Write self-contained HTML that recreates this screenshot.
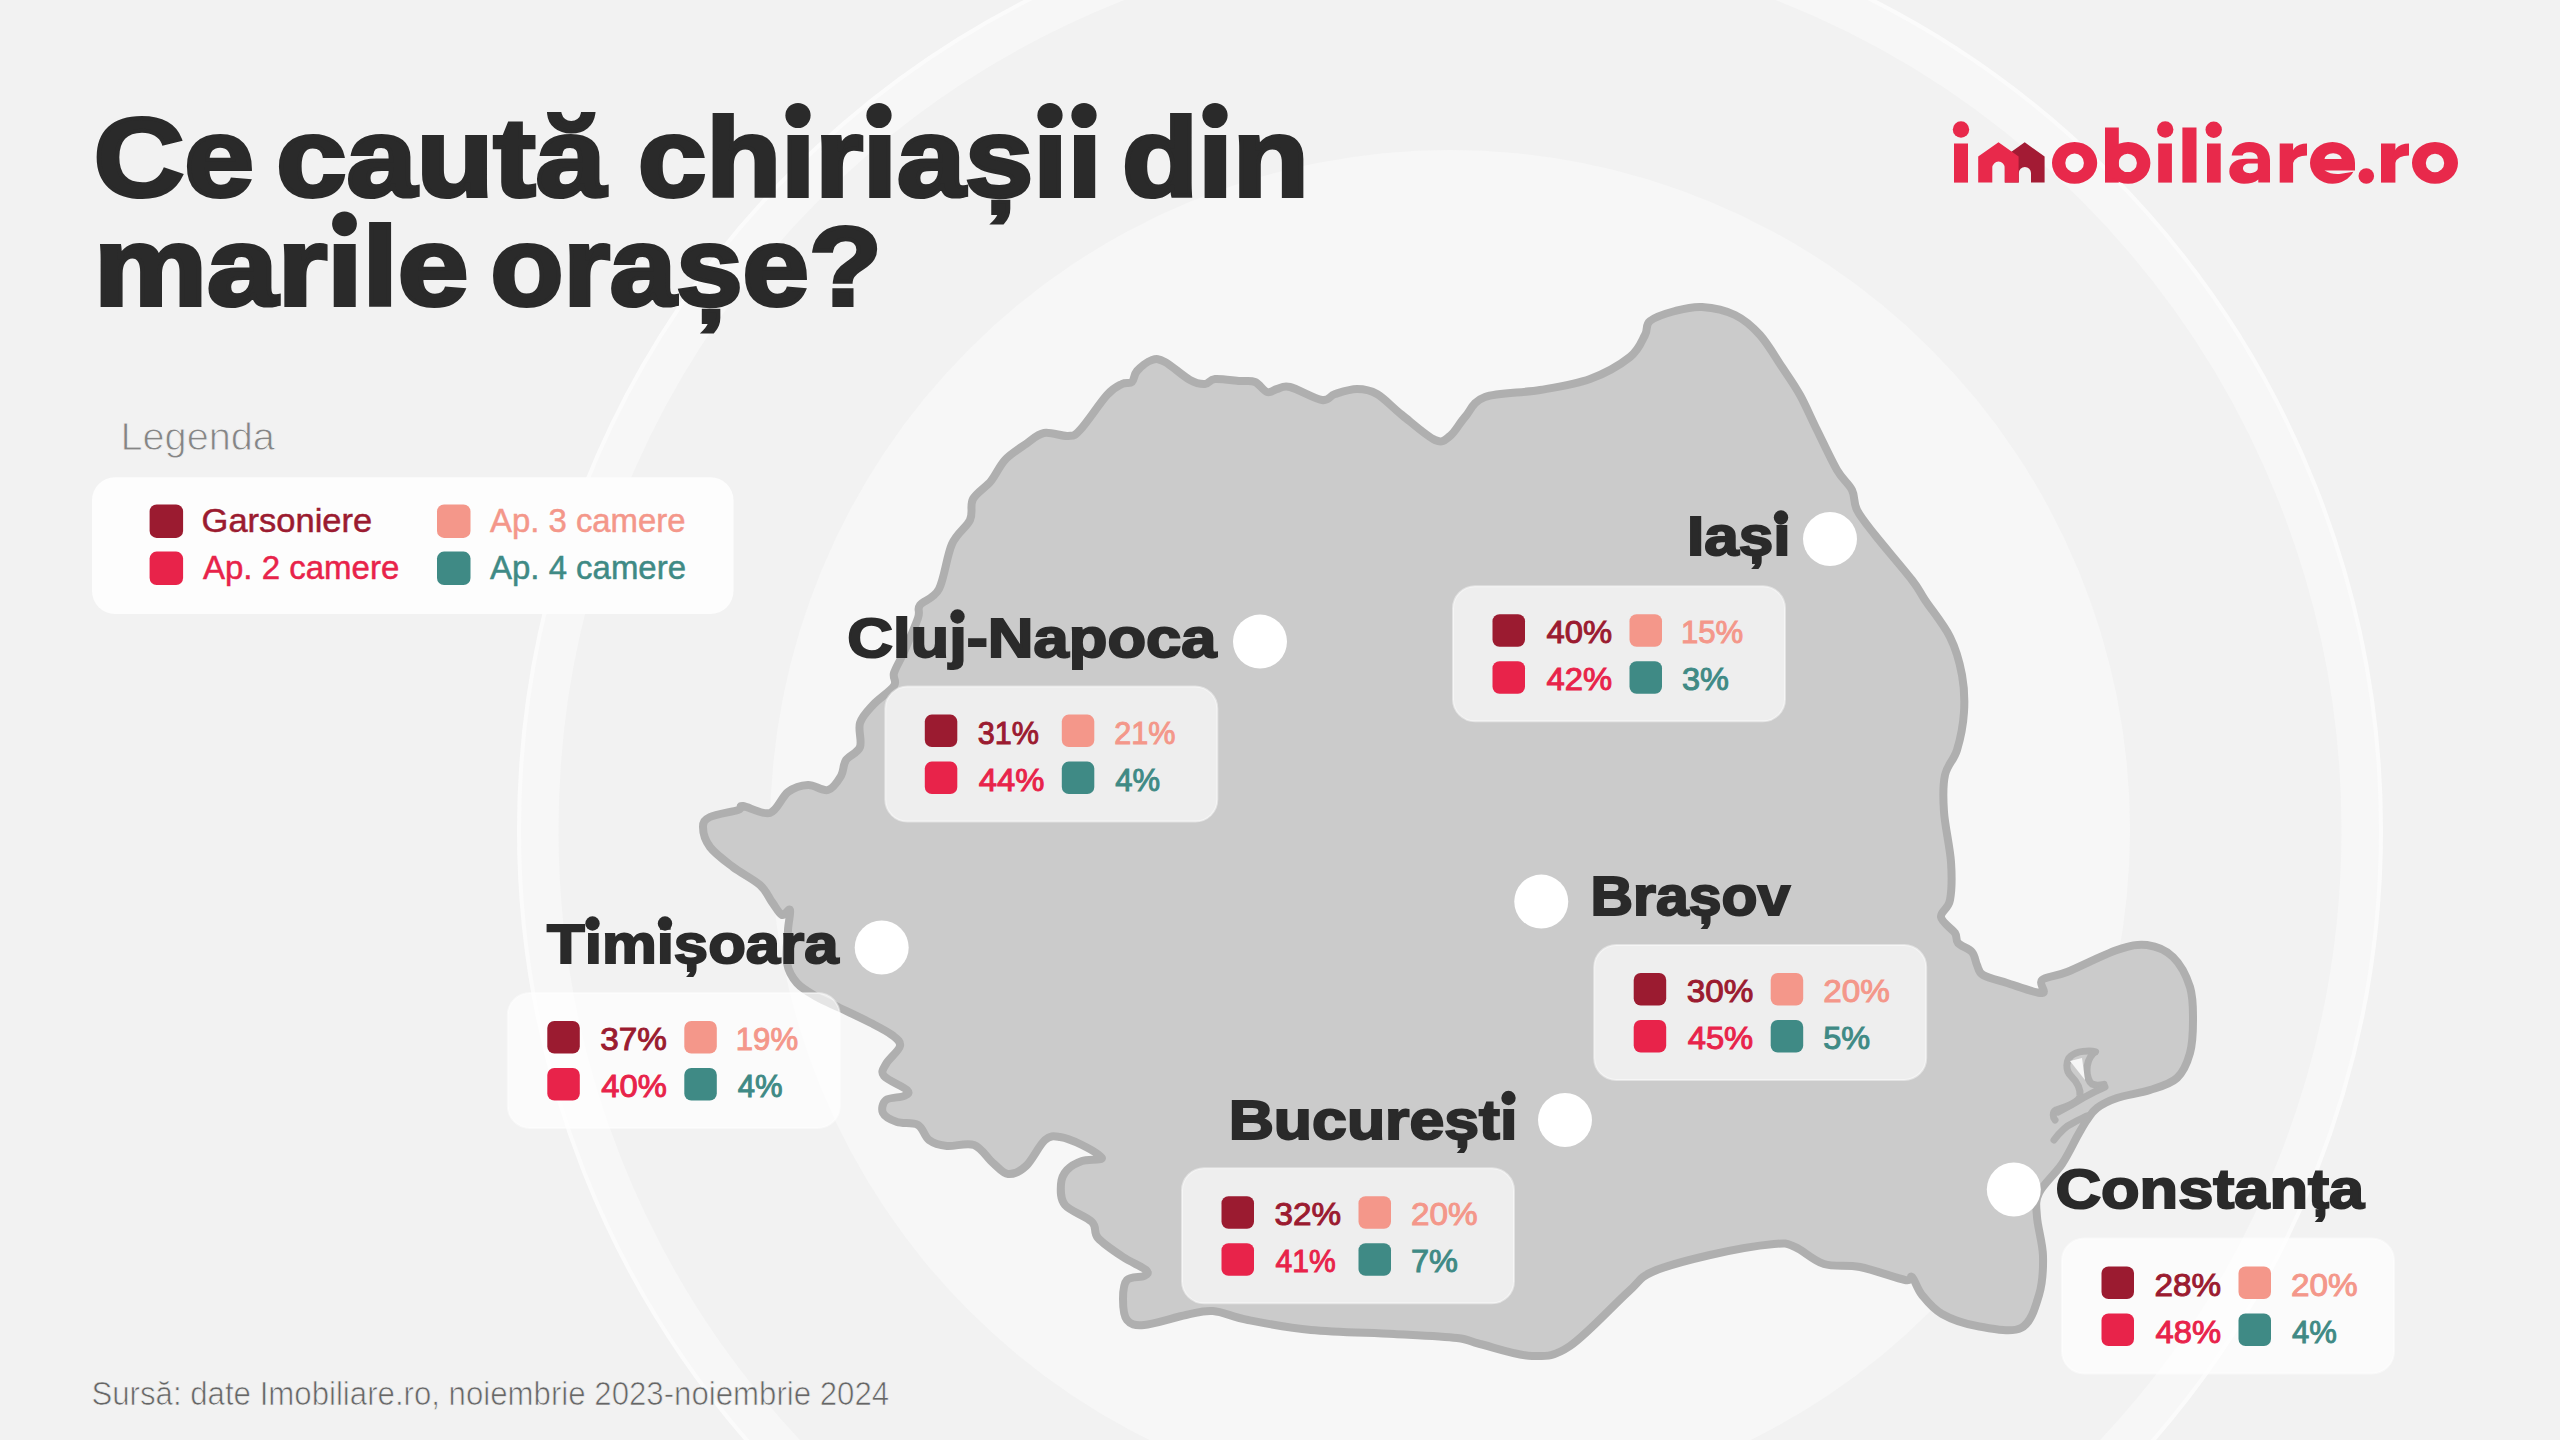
<!DOCTYPE html>
<html><head><meta charset="utf-8"><title>Ce caută chiriașii din marile orașe?</title>
<style>html,body{margin:0;padding:0;width:2560px;height:1440px;overflow:hidden;background:#f2f2f2}svg{display:block}</style>
</head><body>
<svg width="2560" height="1440" viewBox="0 0 2560 1440">
<style>
text{font-family:"Liberation Sans",sans-serif}
.title{font-size:112px;font-weight:700;fill:#2a2a2a;stroke:#2a2a2a;stroke-width:4;stroke-linejoin:miter}
.lab{font-size:56px;font-weight:700;fill:#2a2a2a;stroke:#2a2a2a;stroke-width:2}
.pct{font-size:32px;font-weight:400;stroke-width:1.0}
.leg{font-size:32.5px;font-weight:400;stroke-width:0.5}
</style>
<rect width="2560" height="1440" fill="#f2f2f2"/>
<circle cx="1450" cy="830" r="912" fill="none" stroke="#f7f7f7" stroke-width="41"/>
<circle cx="1450" cy="830" r="931" fill="none" stroke="#fbfbfb" stroke-width="4"/>
<circle cx="1450" cy="830" r="680" fill="#f7f7f7"/>
<path d="M703.0 827.0 C703.0 822.0 704.2 819.8 710.0 817.0 C715.8 814.2 732.5 811.8 738.0 810.0 C743.5 808.2 737.7 805.5 743.0 806.0 C748.3 806.5 762.5 815.3 770.0 813.0 C777.5 810.7 781.7 796.7 788.0 792.0 C794.3 787.3 801.3 785.3 808.0 785.0 C814.7 784.7 822.5 791.5 828.0 790.0 C833.5 788.5 838.0 781.0 841.0 776.0 C844.0 771.0 842.8 764.8 846.0 760.0 C849.2 755.2 857.7 753.2 860.0 747.0 C862.3 740.8 857.8 730.0 860.0 723.0 C862.2 716.0 867.3 711.2 873.0 705.0 C878.7 698.8 890.5 691.3 894.0 686.0 C897.5 680.7 892.3 678.7 894.0 673.0 C895.7 667.3 900.0 661.2 904.0 652.0 C908.0 642.8 915.3 625.8 918.0 618.0 C920.7 610.2 916.5 609.8 920.0 605.0 C923.5 600.2 933.7 599.2 939.0 589.0 C944.3 578.8 946.8 555.5 952.0 544.0 C957.2 532.5 966.5 527.5 970.0 520.0 C973.5 512.5 969.5 505.5 973.0 499.0 C976.5 492.5 985.7 487.5 991.0 481.0 C996.3 474.5 999.2 466.2 1005.0 460.0 C1010.8 453.8 1019.5 448.5 1026.0 444.0 C1032.5 439.5 1037.0 434.3 1044.0 433.0 C1051.0 431.7 1062.0 436.5 1068.0 436.0 C1074.0 435.5 1073.5 436.8 1080.0 430.0 C1086.5 423.2 1100.0 402.7 1107.0 395.0 C1114.0 387.3 1117.8 386.2 1122.0 384.0 C1126.2 381.8 1129.5 384.2 1132.0 382.0 C1134.5 379.8 1133.7 374.7 1137.0 371.0 C1140.3 367.3 1147.3 361.5 1152.0 360.0 C1156.7 358.5 1158.7 358.7 1165.0 362.0 C1171.3 365.3 1183.3 376.3 1190.0 380.0 C1196.7 383.7 1200.8 384.2 1205.0 384.0 C1209.2 383.8 1209.2 379.5 1215.0 379.0 C1220.8 378.5 1233.3 380.5 1240.0 381.0 C1246.7 381.5 1250.5 380.2 1255.0 382.0 C1259.5 383.8 1263.3 390.8 1267.0 392.0 C1270.7 393.2 1273.2 389.8 1277.0 389.0 C1280.8 388.2 1282.5 385.2 1290.0 387.0 C1297.5 388.8 1314.5 398.8 1322.0 400.0 C1329.5 401.2 1329.2 395.8 1335.0 394.0 C1340.8 392.2 1350.0 389.0 1357.0 389.0 C1364.0 389.0 1369.5 389.7 1377.0 394.0 C1384.5 398.3 1392.3 407.3 1402.0 415.0 C1411.7 422.7 1427.0 436.5 1435.0 440.0 C1443.0 443.5 1445.0 439.8 1450.0 436.0 C1455.0 432.2 1459.2 423.5 1465.0 417.0 C1470.8 410.5 1472.5 401.5 1485.0 397.0 C1497.5 392.5 1522.5 393.0 1540.0 390.0 C1557.5 387.0 1575.0 384.5 1590.0 379.0 C1605.0 373.5 1620.8 364.3 1630.0 357.0 C1639.2 349.7 1641.7 341.0 1645.0 335.0 C1648.3 329.0 1645.0 325.0 1650.0 321.0 C1655.0 317.0 1666.3 313.3 1675.0 311.0 C1683.7 308.7 1692.0 306.3 1702.0 307.0 C1712.0 307.7 1725.3 310.3 1735.0 315.0 C1744.7 319.7 1752.2 326.3 1760.0 335.0 C1767.8 343.7 1775.3 357.0 1782.0 367.0 C1788.7 377.0 1794.2 384.5 1800.0 395.0 C1805.8 405.5 1810.8 417.5 1817.0 430.0 C1823.2 442.5 1831.2 460.0 1837.0 470.0 C1842.8 480.0 1848.7 483.3 1852.0 490.0 C1855.3 496.7 1853.2 502.5 1857.0 510.0 C1860.8 517.5 1865.8 523.3 1875.0 535.0 C1884.2 546.7 1903.7 569.2 1912.0 580.0 C1920.3 590.8 1918.7 590.5 1925.0 600.0 C1931.3 609.5 1943.8 624.5 1950.0 637.0 C1956.2 649.5 1959.7 662.5 1962.0 675.0 C1964.3 687.5 1964.8 699.5 1964.0 712.0 C1963.2 724.5 1960.2 739.5 1957.0 750.0 C1953.8 760.5 1947.2 764.7 1945.0 775.0 C1942.8 785.3 1943.0 797.5 1944.0 812.0 C1945.0 826.5 1950.0 847.3 1951.0 862.0 C1952.0 876.7 1951.7 890.8 1950.0 900.0 C1948.3 909.2 1940.2 911.5 1941.0 917.0 C1941.8 922.5 1952.2 928.7 1955.0 933.0 C1957.8 937.3 1955.2 939.8 1958.0 943.0 C1960.8 946.2 1968.8 948.3 1972.0 952.0 C1975.2 955.7 1975.2 961.2 1977.0 965.0 C1978.8 968.8 1978.0 972.0 1983.0 975.0 C1988.0 978.0 1997.2 980.0 2007.0 983.0 C2016.8 986.0 2036.2 993.5 2042.0 993.0 C2047.8 992.5 2037.8 983.5 2042.0 980.0 C2046.2 976.5 2054.5 977.0 2067.0 972.0 C2079.5 967.0 2103.7 954.5 2117.0 950.0 C2130.3 945.5 2137.7 943.8 2147.0 945.0 C2156.3 946.2 2165.8 950.0 2173.0 957.0 C2180.2 964.0 2186.7 976.5 2190.0 987.0 C2193.3 997.5 2193.0 1009.0 2193.0 1020.0 C2193.0 1031.0 2192.7 1043.3 2190.0 1053.0 C2187.3 1062.7 2183.7 1071.8 2177.0 1078.0 C2170.3 1084.2 2160.0 1086.7 2150.0 1090.0 C2140.0 1093.3 2125.8 1095.0 2117.0 1098.0 C2108.2 1101.0 2102.0 1104.3 2097.0 1108.0 C2092.0 1111.7 2090.2 1115.5 2087.0 1120.0 C2083.8 1124.5 2082.2 1127.7 2078.0 1135.0 C2073.8 1142.3 2068.5 1154.3 2062.0 1164.0 C2055.5 1173.7 2043.2 1184.2 2039.0 1193.0 C2034.8 1201.8 2036.3 1206.5 2037.0 1217.0 C2037.7 1227.5 2042.7 1243.0 2043.0 1256.0 C2043.3 1269.0 2042.7 1283.0 2039.0 1295.0 C2035.3 1307.0 2031.3 1322.8 2021.0 1328.0 C2010.7 1333.2 1990.2 1328.3 1977.0 1326.0 C1963.8 1323.7 1951.2 1319.2 1942.0 1314.0 C1932.8 1308.8 1927.0 1301.2 1922.0 1295.0 C1917.0 1288.8 1914.8 1279.5 1912.0 1277.0 C1909.2 1274.5 1913.7 1281.7 1905.0 1280.0 C1896.3 1278.3 1873.5 1269.7 1860.0 1267.0 C1846.5 1264.3 1834.8 1267.3 1824.0 1264.0 C1813.2 1260.7 1803.3 1250.3 1795.0 1247.0 C1786.7 1243.7 1788.2 1242.7 1774.0 1244.0 C1759.8 1245.3 1730.3 1250.3 1710.0 1255.0 C1689.7 1259.7 1665.7 1265.8 1652.0 1272.0 C1638.3 1278.2 1641.7 1279.7 1628.0 1292.0 C1614.3 1304.3 1586.0 1335.3 1570.0 1346.0 C1554.0 1356.7 1547.0 1356.3 1532.0 1356.0 C1517.0 1355.7 1492.5 1347.0 1480.0 1344.0 C1467.5 1341.0 1471.3 1339.7 1457.0 1338.0 C1442.7 1336.3 1418.3 1335.3 1394.0 1334.0 C1369.7 1332.7 1335.3 1332.3 1311.0 1330.0 C1286.7 1327.7 1264.3 1323.2 1248.0 1320.0 C1231.7 1316.8 1223.3 1311.8 1213.0 1311.0 C1202.7 1310.2 1197.5 1312.7 1186.0 1315.0 C1174.5 1317.3 1153.8 1324.2 1144.0 1325.0 C1134.2 1325.8 1130.5 1324.3 1127.0 1320.0 C1123.5 1315.7 1123.0 1305.7 1123.0 1299.0 C1123.0 1292.3 1123.5 1283.8 1127.0 1280.0 C1130.5 1276.2 1140.8 1277.7 1144.0 1276.0 C1147.2 1274.3 1149.5 1273.2 1146.0 1270.0 C1142.5 1266.8 1131.0 1262.3 1123.0 1257.0 C1115.0 1251.7 1103.2 1243.8 1098.0 1238.0 C1092.8 1232.2 1097.5 1227.5 1092.0 1222.0 C1086.5 1216.5 1070.2 1211.3 1065.0 1205.0 C1059.8 1198.7 1060.7 1189.8 1061.0 1184.0 C1061.3 1178.2 1063.5 1173.8 1067.0 1170.0 C1070.5 1166.2 1076.2 1163.0 1082.0 1161.0 C1087.8 1159.0 1102.0 1160.7 1102.0 1158.0 C1102.0 1155.3 1089.0 1148.5 1082.0 1145.0 C1075.0 1141.5 1066.2 1137.8 1060.0 1137.0 C1053.8 1136.2 1050.7 1135.2 1045.0 1140.0 C1039.3 1144.8 1032.2 1160.3 1026.0 1166.0 C1019.8 1171.7 1013.5 1174.5 1008.0 1174.0 C1002.5 1173.5 998.7 1167.8 993.0 1163.0 C987.3 1158.2 981.7 1147.8 974.0 1145.0 C966.3 1142.2 954.5 1146.8 947.0 1146.0 C939.5 1145.2 933.8 1143.5 929.0 1140.0 C924.2 1136.5 923.3 1128.0 918.0 1125.0 C912.7 1122.0 902.8 1124.0 897.0 1122.0 C891.2 1120.0 884.8 1116.7 883.0 1113.0 C881.2 1109.3 882.5 1102.8 886.0 1100.0 C889.5 1097.2 900.5 1097.7 904.0 1096.0 C907.5 1094.3 910.3 1093.3 907.0 1090.0 C903.7 1086.7 887.5 1080.3 884.0 1076.0 C880.5 1071.7 883.3 1069.0 886.0 1064.0 C888.7 1059.0 899.0 1050.8 900.0 1046.0 C901.0 1041.2 896.8 1038.8 892.0 1035.0 C887.2 1031.2 879.7 1027.5 871.0 1023.0 C862.3 1018.5 849.0 1012.3 840.0 1008.0 C831.0 1003.7 824.2 1001.2 817.0 997.0 C809.8 992.8 802.0 988.7 797.0 983.0 C792.0 977.3 788.5 971.8 787.0 963.0 C785.5 954.2 787.5 938.8 788.0 930.0 C788.5 921.2 791.0 912.5 790.0 910.0 C789.0 907.5 785.0 916.3 782.0 915.0 C779.0 913.7 775.7 907.0 772.0 902.0 C768.3 897.0 766.5 890.8 760.0 885.0 C753.5 879.2 741.3 873.3 733.0 867.0 C724.7 860.7 715.0 853.7 710.0 847.0 C705.0 840.3 703.0 832.0 703.0 827.0Z" fill="#cbcbcb" stroke="#afafaf" stroke-width="8" stroke-linejoin="round"/>
<path d="M2095.6 1051.8 C2090 1050 2076 1051 2071 1056 C2066 1060 2065 1070 2071 1076 C2076 1081 2081 1088 2080 1096 C2079 1102 2068 1106 2056 1110 C2052 1112 2053 1118 2055 1120" fill="none" stroke="#afafaf" stroke-width="7" stroke-linecap="round"/>
<path d="M2092.8 1053.9 C2089 1058 2087 1064 2087 1070 C2087 1076 2089 1082 2092 1084 C2096 1086 2101 1085 2104 1084.4" fill="none" stroke="#afafaf" stroke-width="7" stroke-linecap="round"/>
<path d="M2070 1061 L2082 1058 L2085 1080 Z" fill="#f6f6f6"/>
<path d="M2105 1087 C2098 1090 2090 1094 2083 1098 C2075 1103 2066 1108 2058 1112" fill="none" stroke="#afafaf" stroke-width="7" stroke-linecap="round"/>
<path d="M2054 1140 C2060 1132 2066 1126 2073 1123 C2078 1120 2083 1118 2087 1116" fill="none" stroke="#afafaf" stroke-width="7" stroke-linecap="round"/>
<circle cx="1260" cy="641.6" r="27" fill="#ffffff"/>
<circle cx="1830" cy="539" r="27" fill="#ffffff"/>
<circle cx="1541.25" cy="901.6" r="27" fill="#ffffff"/>
<circle cx="881.7" cy="947.5" r="27" fill="#ffffff"/>
<circle cx="1565" cy="1120" r="27" fill="#ffffff"/>
<circle cx="2013.8" cy="1189.5" r="27" fill="#ffffff"/>
<text x="93.75" y="196.25" class="title" style="" textLength="160.2" lengthAdjust="spacingAndGlyphs">Ce</text>
<text x="276.25" y="196.25" class="title" style="" textLength="329.52" lengthAdjust="spacingAndGlyphs">caută</text>
<text x="638.0" y="196.25" class="title" style="" textLength="463.45" lengthAdjust="spacingAndGlyphs">chırıașıı</text>
<text x="1122.0" y="196.25" class="title" style="" textLength="186.86" lengthAdjust="spacingAndGlyphs">dın</text>
<text x="94.0" y="305" class="title" style="" textLength="374.37" lengthAdjust="spacingAndGlyphs">marıle</text>
<text x="490.5" y="305" class="title" style="" textLength="391.31" lengthAdjust="spacingAndGlyphs">orașe?</text>
<circle cx="798" cy="115.5" r="12.6" fill="#2a2a2a"/>
<circle cx="879" cy="115.5" r="12.6" fill="#2a2a2a"/>
<circle cx="1050" cy="115.5" r="12.6" fill="#2a2a2a"/>
<circle cx="1084" cy="115.5" r="12.6" fill="#2a2a2a"/>
<circle cx="1215" cy="115.5" r="12.6" fill="#2a2a2a"/>
<circle cx="344.5" cy="223.8" r="12.4" fill="#2a2a2a"/>
<circle cx="957.5" cy="616.5" r="7.2" fill="#2a2a2a"/>
<circle cx="1781" cy="517.5" r="7.2" fill="#2a2a2a"/>
<circle cx="592.5" cy="923.5" r="7.2" fill="#2a2a2a"/>
<circle cx="665" cy="923.5" r="7.2" fill="#2a2a2a"/>
<circle cx="1508.5" cy="1098" r="7.2" fill="#2a2a2a"/>
<text x="847.25" y="656.6" class="lab" style="" textLength="369.27" lengthAdjust="spacingAndGlyphs">Cluȷ-Napoca</text>
<text x="1687.0" y="555.3" class="lab" style="" textLength="103.54" lengthAdjust="spacingAndGlyphs">Iașı</text>
<text x="1590.4" y="915.3" class="lab" style="" textLength="199.81" lengthAdjust="spacingAndGlyphs">Brașov</text>
<text x="547.1" y="963.3" class="lab" style="" textLength="291.36" lengthAdjust="spacingAndGlyphs">Tımișoara</text>
<text x="1228.7" y="1138.6" class="lab" style="" textLength="288.6" lengthAdjust="spacingAndGlyphs">Bucureștı</text>
<text x="2055.4" y="1208.4" class="lab" style="" textLength="308.72" lengthAdjust="spacingAndGlyphs">Constanța</text>
<text x="120.4" y="450.3" class="" style="font-size:38px;fill:#858585;stroke:#f2f2f2;stroke-width:0.9" textLength="154.56" lengthAdjust="spacingAndGlyphs">Legenda</text>
<rect x="92" y="477.3" width="641.5" height="136.7" rx="23" fill="#fdfdfd"/>
<rect x="149.6" y="504.4" width="33.5" height="33.5" rx="7" fill="#9b1b30"/>
<text x="201.6" y="532.0" class="leg" style="" textLength="170.53" lengthAdjust="spacingAndGlyphs" fill="#9b1b30" stroke="#9b1b30">Garsoniere</text>
<rect x="149.6" y="551.6" width="33.5" height="33.5" rx="7" fill="#e8234a"/>
<text x="203.0" y="579.2" class="leg" style="" textLength="196.24" lengthAdjust="spacingAndGlyphs" fill="#e8234a" stroke="#e8234a">Ap. 2 camere</text>
<rect x="437" y="504.4" width="33.5" height="33.5" rx="7" fill="#f4978a"/>
<text x="490.0" y="532.0" class="leg" style="" textLength="195.52" lengthAdjust="spacingAndGlyphs" fill="#f4978a" stroke="#f4978a">Ap. 3 camere</text>
<rect x="437" y="551.6" width="33.5" height="33.5" rx="7" fill="#3f8a85"/>
<text x="490.0" y="579.2" class="leg" style="" textLength="196.02" lengthAdjust="spacingAndGlyphs" fill="#3f8a85" stroke="#3f8a85">Ap. 4 camere</text>
<rect x="885.3" y="686.6" width="332" height="135" rx="22" fill="rgba(255,255,255,0.68)" stroke="rgba(255,255,255,0.45)" stroke-width="2"/><rect x="924.8" y="714.6" width="32.5" height="32.5" rx="7" fill="#9b1b30"/><text x="977.8" y="743.6" class="pct" fill="#9b1b30" stroke="#9b1b30" textLength="61.24" lengthAdjust="spacingAndGlyphs">31%</text><rect x="1061.8" y="714.6" width="32.5" height="32.5" rx="7" fill="#f4978a"/><text x="1114.3" y="743.6" class="pct" fill="#f4978a" stroke="#f4978a" textLength="61.24" lengthAdjust="spacingAndGlyphs">21%</text><rect x="924.8" y="761.6" width="32.5" height="32.5" rx="7" fill="#e8234a"/><text x="978.8" y="790.6" class="pct" fill="#e8234a" stroke="#e8234a" textLength="65.56" lengthAdjust="spacingAndGlyphs">44%</text><rect x="1061.8" y="761.6" width="32.5" height="32.5" rx="7" fill="#3f8a85"/><text x="1115.3" y="790.6" class="pct" fill="#3f8a85" stroke="#3f8a85" textLength="44.85" lengthAdjust="spacingAndGlyphs">4%</text>
<rect x="1453" y="586.3" width="332" height="135" rx="22" fill="rgba(255,255,255,0.68)" stroke="rgba(255,255,255,0.45)" stroke-width="2"/><rect x="1492.5" y="614.3" width="32.5" height="32.5" rx="7" fill="#9b1b30"/><text x="1546.5" y="643.3" class="pct" fill="#9b1b30" stroke="#9b1b30" textLength="65.56" lengthAdjust="spacingAndGlyphs">40%</text><rect x="1629.5" y="614.3" width="32.5" height="32.5" rx="7" fill="#f4978a"/><text x="1681.0" y="643.3" class="pct" fill="#f4978a" stroke="#f4978a" textLength="62.3" lengthAdjust="spacingAndGlyphs">15%</text><rect x="1492.5" y="661.3" width="32.5" height="32.5" rx="7" fill="#e8234a"/><text x="1546.5" y="690.3" class="pct" fill="#e8234a" stroke="#e8234a" textLength="65.56" lengthAdjust="spacingAndGlyphs">42%</text><rect x="1629.5" y="661.3" width="32.5" height="32.5" rx="7" fill="#3f8a85"/><text x="1682.0" y="690.3" class="pct" fill="#3f8a85" stroke="#3f8a85" textLength="46.91" lengthAdjust="spacingAndGlyphs">3%</text>
<rect x="1594.2" y="945" width="332" height="135" rx="22" fill="rgba(255,255,255,0.68)" stroke="rgba(255,255,255,0.45)" stroke-width="2"/><rect x="1633.7" y="973.0" width="32.5" height="32.5" rx="7" fill="#9b1b30"/><text x="1686.7" y="1002.0" class="pct" fill="#9b1b30" stroke="#9b1b30" textLength="66.59" lengthAdjust="spacingAndGlyphs">30%</text><rect x="1770.7" y="973.0" width="32.5" height="32.5" rx="7" fill="#f4978a"/><text x="1823.2" y="1002.0" class="pct" fill="#f4978a" stroke="#f4978a" textLength="66.59" lengthAdjust="spacingAndGlyphs">20%</text><rect x="1633.7" y="1020.0" width="32.5" height="32.5" rx="7" fill="#e8234a"/><text x="1687.7" y="1049.0" class="pct" fill="#e8234a" stroke="#e8234a" textLength="65.56" lengthAdjust="spacingAndGlyphs">45%</text><rect x="1770.7" y="1020.0" width="32.5" height="32.5" rx="7" fill="#3f8a85"/><text x="1823.2" y="1049.0" class="pct" fill="#3f8a85" stroke="#3f8a85" textLength="46.91" lengthAdjust="spacingAndGlyphs">5%</text>
<rect x="507.8" y="993" width="332" height="135" rx="22" fill="rgba(255,255,255,0.68)" stroke="rgba(255,255,255,0.45)" stroke-width="2"/><rect x="547.3" y="1021.0" width="32.5" height="32.5" rx="7" fill="#9b1b30"/><text x="600.3" y="1050.0" class="pct" fill="#9b1b30" stroke="#9b1b30" textLength="66.59" lengthAdjust="spacingAndGlyphs">37%</text><rect x="684.3" y="1021.0" width="32.5" height="32.5" rx="7" fill="#f4978a"/><text x="735.8" y="1050.0" class="pct" fill="#f4978a" stroke="#f4978a" textLength="62.3" lengthAdjust="spacingAndGlyphs">19%</text><rect x="547.3" y="1068.0" width="32.5" height="32.5" rx="7" fill="#e8234a"/><text x="601.3" y="1097.0" class="pct" fill="#e8234a" stroke="#e8234a" textLength="65.56" lengthAdjust="spacingAndGlyphs">40%</text><rect x="684.3" y="1068.0" width="32.5" height="32.5" rx="7" fill="#3f8a85"/><text x="737.8" y="1097.0" class="pct" fill="#3f8a85" stroke="#3f8a85" textLength="44.85" lengthAdjust="spacingAndGlyphs">4%</text>
<rect x="1182" y="1168.3" width="332" height="135" rx="22" fill="rgba(255,255,255,0.68)" stroke="rgba(255,255,255,0.45)" stroke-width="2"/><rect x="1221.5" y="1196.3" width="32.5" height="32.5" rx="7" fill="#9b1b30"/><text x="1274.5" y="1225.3" class="pct" fill="#9b1b30" stroke="#9b1b30" textLength="66.59" lengthAdjust="spacingAndGlyphs">32%</text><rect x="1358.5" y="1196.3" width="32.5" height="32.5" rx="7" fill="#f4978a"/><text x="1411.0" y="1225.3" class="pct" fill="#f4978a" stroke="#f4978a" textLength="66.59" lengthAdjust="spacingAndGlyphs">20%</text><rect x="1221.5" y="1243.3" width="32.5" height="32.5" rx="7" fill="#e8234a"/><text x="1275.5" y="1272.3" class="pct" fill="#e8234a" stroke="#e8234a" textLength="60.22" lengthAdjust="spacingAndGlyphs">41%</text><rect x="1358.5" y="1243.3" width="32.5" height="32.5" rx="7" fill="#3f8a85"/><text x="1411.0" y="1272.3" class="pct" fill="#3f8a85" stroke="#3f8a85" textLength="46.91" lengthAdjust="spacingAndGlyphs">7%</text>
<rect x="2062" y="1238.5" width="332" height="135" rx="22" fill="rgba(255,255,255,0.68)" stroke="rgba(255,255,255,0.45)" stroke-width="2"/><rect x="2101.5" y="1266.5" width="32.5" height="32.5" rx="7" fill="#9b1b30"/><text x="2154.5" y="1295.5" class="pct" fill="#9b1b30" stroke="#9b1b30" textLength="66.59" lengthAdjust="spacingAndGlyphs">28%</text><rect x="2238.5" y="1266.5" width="32.5" height="32.5" rx="7" fill="#f4978a"/><text x="2291.0" y="1295.5" class="pct" fill="#f4978a" stroke="#f4978a" textLength="66.59" lengthAdjust="spacingAndGlyphs">20%</text><rect x="2101.5" y="1313.5" width="32.5" height="32.5" rx="7" fill="#e8234a"/><text x="2155.5" y="1342.5" class="pct" fill="#e8234a" stroke="#e8234a" textLength="65.56" lengthAdjust="spacingAndGlyphs">48%</text><rect x="2238.5" y="1313.5" width="32.5" height="32.5" rx="7" fill="#3f8a85"/><text x="2292.0" y="1342.5" class="pct" fill="#3f8a85" stroke="#3f8a85" textLength="44.85" lengthAdjust="spacingAndGlyphs">4%</text>
<text x="91.4" y="1404.8" class="" style="font-size:33px;fill:#666666;stroke:#f2f2f2;stroke-width:0.7" textLength="797.79" lengthAdjust="spacingAndGlyphs">Sursă: date Imobiliare.ro, noiembrie 2023-noiembrie 2024</text>
<rect x="1954" y="143.5" width="14" height="39.099999999999994" fill="#e8294b"/>
<circle cx="1961" cy="129.5" r="8.2" fill="#e8294b"/>
<path fill="#a31b34" d="M2004.8 156.4 L2024.7 142.3 L2044.6 156.4 V182.6 H2031 V173.1 A6.1 6.1 0 0 0 2018.8 173.1 V182.6 H2004.8 Z"/>
<path fill="#e8294b" d="M1978.2 156.4 L1998.5 142.3 L2018.6 156.4 V182.6 H2004.8 V167.8 A6.25 6.25 0 0 0 1992.3 167.8 V182.6 H1978.2 Z"/>
<path fill-rule="evenodd" fill="#e8294b" d="M2052.0 162.9 A22.6 20.9 0 1 0 2097.2 162.9 A22.6 20.9 0 1 0 2052.0 162.9 Z M2065.2999999999997 162.9 A9.3 9.3 0 1 0 2083.9 162.9 A9.3 9.3 0 1 0 2065.2999999999997 162.9 Z"/>
<rect x="2105" y="127.5" width="13.8" height="55.099999999999994" fill="#e8294b"/>
<path fill-rule="evenodd" fill="#e8294b" d="M2106.0 162.9 A22.2 20.9 0 1 0 2150.3999999999996 162.9 A22.2 20.9 0 1 0 2106.0 162.9 Z M2118.5 162.9 A9.2 9.2 0 1 0 2136.8999999999996 162.9 A9.2 9.2 0 1 0 2118.5 162.9 Z"/>
<rect x="2158.2" y="143.5" width="13.7" height="39.099999999999994" fill="#e8294b"/>
<circle cx="2165.2" cy="129.5" r="8.2" fill="#e8294b"/>
<rect x="2182.4" y="127.5" width="14.1" height="55.099999999999994" fill="#e8294b"/>
<rect x="2207" y="143.5" width="13.7" height="39.099999999999994" fill="#e8294b"/>
<circle cx="2213.7" cy="129.8" r="8.2" fill="#e8294b"/>
<path fill-rule="evenodd" fill="#e8294b" d="M2231.6 155.6 C2233 147 2240 142 2249 142 C2262 142 2270 149 2270 160 L2270 182.6 L2258.3 182.6 L2258.3 179.5 C2255 182.5 2250 183.75 2244 183.75 C2235 183.75 2229.3 178.5 2229.3 171.5 C2229.3 163 2236 158.8 2246 158.8 L2257.8 158.8 C2257.8 154 2254 152.3 2249 152.3 C2245 152.3 2243 153.6 2242.6 155.6 Z M2257.8 163.4 L2250 163.4 C2245.5 163.4 2243 165.5 2243 168.3 C2243 171.2 2245.5 173.2 2250 173.2 C2254 173.2 2257.8 171 2257.8 168.3 Z"/>
<rect x="2279.7" y="143.5" width="13.4" height="39.099999999999994" fill="#e8294b"/>
<path fill="#e8294b" d="M2290 163 Q2290 143.5 2307 143.5 V155.6 Q2296 155.6 2293 163 Z"/>
<path fill-rule="evenodd" fill="#e8294b" d="M2355 170.5 L2324.5 170.5 Q2332 175 2341 173.8 L2353.4 171.8 C2349 179.5 2341 183.75 2332.5 183.75 A22.5 20.9 0 0 1 2310 162.9 A22.5 20.9 0 0 1 2355 162.9 Z M2324.5 159.1 A8.6 5.8 0 0 1 2341.7 159.1 Z"/>
<circle cx="2366.3" cy="176" r="7.8" fill="#e8294b"/>
<rect x="2381" y="143.5" width="14.4" height="39.099999999999994" fill="#e8294b"/>
<path fill="#e8294b" d="M2392 163 Q2392 143.5 2409 143.5 V155.6 Q2398 155.6 2395 163 Z"/>
<path fill-rule="evenodd" fill="#e8294b" d="M2412 162.9 A23 20.9 0 1 0 2458 162.9 A23 20.9 0 1 0 2412 162.9 Z M2425.8 163 A9.2 9.2 0 1 0 2444.2 163 A9.2 9.2 0 1 0 2425.8 163 Z"/>
</svg>
</body></html>
